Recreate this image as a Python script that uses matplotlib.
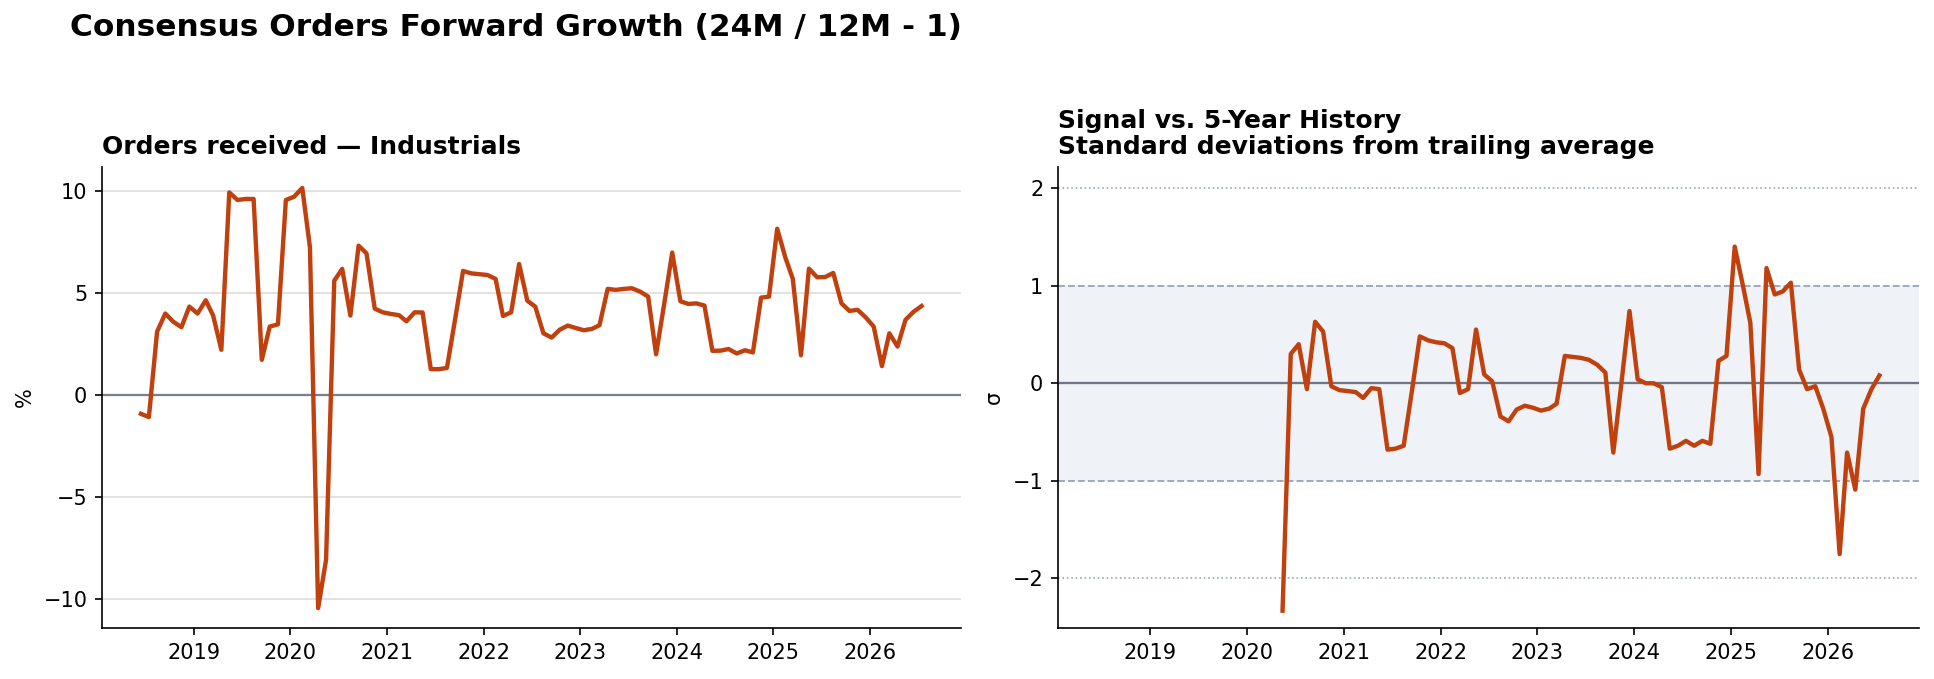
import numpy as np
import pandas as pd
from matplotlib import pyplot as plt

# monthly observations, Jun 2018 - Jul 2026
dates = pd.date_range('2018-06-01', periods=98, freq='MS') + pd.Timedelta(days=14)

growth = [
    -0.93, -1.09, 3.10, 3.99, 3.59, 3.32, 4.33, 3.99, 4.64, 3.89,
    2.21, 9.93, 9.56, 9.61, 9.61, 1.72, 3.35, 3.46, 9.56, 9.72,
    10.15, 7.24, -10.46, -8.09, 5.60, 6.18, 3.89, 7.32, 6.94, 4.23,
    4.05, 3.97, 3.91, 3.61, 4.05, 4.04, 1.26, 1.26, 1.32, 3.71,
    6.08, 5.96, 5.92, 5.88, 5.69, 3.87, 4.05, 6.42, 4.62, 4.33,
    3.02, 2.81, 3.19, 3.40, 3.28, 3.17, 3.24, 3.42, 5.20, 5.15,
    5.20, 5.23, 5.07, 4.82, 1.99, 4.49, 6.98, 4.59, 4.46, 4.49,
    4.38, 2.16, 2.17, 2.25, 2.03, 2.19, 2.08, 4.77, 4.82, 8.15,
    6.73, 5.69, 1.94, 6.19, 5.77, 5.78, 5.98, 4.49, 4.12, 4.17,
    3.81, 3.35, 1.41, 3.02, 2.37, 3.68, 4.08, 4.36,
]

# z-score vs trailing 5y history (first 23 months not available)
zscore = [np.nan] * 23 + [
    -2.33, 0.30, 0.40, -0.06, 0.63, 0.53, -0.03, -0.07, -0.08, -0.09,
    -0.15, -0.05, -0.06, -0.68, -0.67, -0.64, -0.08, 0.48, 0.44, 0.42,
    0.41, 0.36, -0.10, -0.06, 0.55, 0.09, 0.02, -0.34, -0.39, -0.27,
    -0.23, -0.25, -0.28, -0.26, -0.21, 0.28, 0.27, 0.26, 0.24, 0.19,
    0.11, -0.71, 0.01, 0.74, 0.04, 0.00, 0.00, -0.04, -0.67, -0.64,
    -0.59, -0.64, -0.59, -0.62, 0.23, 0.28, 1.40, 1.00, 0.62, -0.93,
    1.18, 0.91, 0.94, 1.03, 0.14, -0.06, -0.03, -0.26, -0.55, -1.75,
    -0.71, -1.09, -0.26, -0.06, 0.08,
]

line_color = '#c0400e'
ref_color = '#9aa7bd'

fig = plt.figure(figsize=(1934 / 150, 679 / 150), dpi=150)
ax1 = fig.add_axes([0.0527, 0.0747, 0.444, 0.680])
ax2 = fig.add_axes([0.547, 0.0747, 0.445, 0.680])

fig.text(70 / 1934, 1 - 27 / 679, 'Consensus Orders Forward Growth (24M / 12M - 1)',
         fontsize=15, fontweight='bold', ha='left', va='center')

# left panel
ax1.plot(dates, growth, color=line_color, lw=2.1, zorder=3)
ax1.axhline(0, color='#7a7f8f', lw=1.1, zorder=2)
ax1.set_yticks([-10, -5, 0, 5, 10])
ax1.yaxis.grid(True, color='#dddddd', lw=0.8)
ax1.set_axisbelow(True)
ax1.set_ylim(-11.45, 11.2)
ax1.set_ylabel('%')
ax1.set_title('Orders received \u2014 Industrials', loc='left',
              fontsize=12, fontweight='bold')

# right panel
ax2.axhspan(-1, 1, color='#eef2f7', alpha=0.9, lw=0, zorder=0)
ax2.axhline(1, color=ref_color, lw=0.9, ls='--', zorder=1)
ax2.axhline(-1, color=ref_color, lw=0.9, ls='--', zorder=1)
ax2.axhline(2, color=ref_color, lw=0.8, ls=':', zorder=1)
ax2.axhline(-2, color=ref_color, lw=0.8, ls=':', zorder=1)
ax2.axhline(0, color='#6f7582', lw=1.1, zorder=2)
ax2.plot(dates, zscore, color=line_color, lw=2.1, zorder=3)
ax2.set_yticks([-2, -1, 0, 1, 2])
ax2.set_ylim(-2.51, 2.22)
ax2.set_ylabel('\u03c3')
ax2.set_title('Signal vs. 5-Year History\nStandard deviations from trailing average',
              loc='left', fontsize=12, fontweight='bold', linespacing=1.1)

for ax in (ax1, ax2):
    ax.spines['top'].set_visible(False)
    ax.spines['right'].set_visible(False)
    ax.margins(x=0.05)

ax2.set_xlim(ax1.get_xlim())

plt.savefig('out.png', dpi=150)
